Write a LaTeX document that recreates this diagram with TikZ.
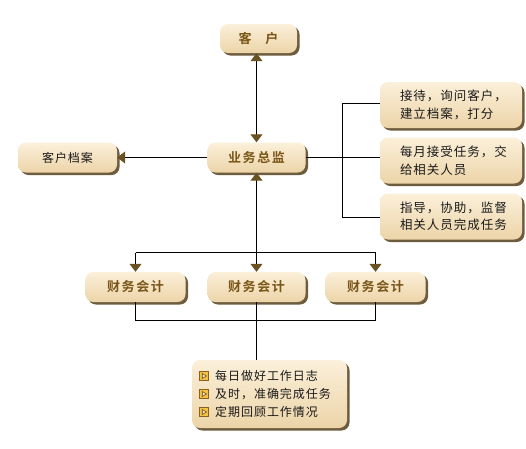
\documentclass[tikz,border=0pt]{standalone}
\usepackage{fontspec}
\newfontfamily\cjk[LetterSpace=8]{Noto Sans CJK SC}
\newfontfamily\cjkb[LetterSpace=12]{Noto Sans CJK SC Bold}
\usetikzlibrary{arrows.meta,shadows,calc}
\definecolor{boxtop}{HTML}{FBF0DA}
\definecolor{boxbot}{HTML}{ECD4A8}
\definecolor{shadowc}{HTML}{6E5C3E}
\definecolor{labc}{HTML}{7A5618}
\definecolor{tipc}{HTML}{6B5222}
\definecolor{icfill}{HTML}{F0C246}
\definecolor{icline}{HTML}{8A6020}
\tikzset{
  box/.style={rounded corners=8pt, top color=boxtop, bottom color=boxbot,
    drop shadow={shadow xshift=2.5pt, shadow yshift=-2.5pt, fill=shadowc, opacity=1},
    inner sep=0pt, align=center},
  bold/.style={box, font=\cjkb\fontsize{13}{15}\selectfont, text=labc},
  plain/.style={box, font=\cjk\fontsize{12}{18}\selectfont, text=black!90},
  rbox/.style={box, font=\cjk\fontsize{12.5}{17.5}\selectfont, text=black!90,
    minimum width=142pt, minimum height=46pt, text width=124pt, align=left},
  conn/.style={line width=1pt, black},
  tip/.style={-{Triangle[width=12pt,length=8pt,color=tipc]}},
  tipboth/.style={{Triangle[width=12pt,length=8pt,color=tipc]}-{Triangle[width=12pt,length=8pt,color=tipc]}},
  icon/.style={draw=icline, fill=icfill, line width=0.8pt, minimum size=9pt, inner sep=0pt},
  itemtext/.style={anchor=west, font=\cjk\fontsize{12}{14}\selectfont, text=black!90, inner sep=0pt}
}
\newcommand{\ind}{\hspace*{11pt}}
\begin{document}
\begin{tikzpicture}[x=1pt,y=-1pt]
\useasboundingbox (0,0) rectangle (526,448);
% nodes
\node[bold, minimum width=77pt, minimum height=29pt] (kh) at (258.5,38.5) {客\hspace{14pt}户};
\node[bold, minimum width=98pt, minimum height=30pt] (yw) at (256.5,157.5) {业务总监};
\node[plain, minimum width=99pt, minimum height=30pt] (da) at (67.5,157.5) {客户档案};
\node[rbox] (r1) at (451,105) {\ind 接待，询问客户，\\\ind 建立档案，打分};
\node[rbox] (r2) at (451,160.5) {\ind 每月接受任务，交\\\ind 给相关人员};
\node[rbox] (r3) at (451,216.5) {\ind 指导，协助，监督\\\ind 相关人员完成任务};
\node[bold, minimum width=100pt, minimum height=30pt] (c1) at (135.5,287) {财务会计};
\node[bold, minimum width=98pt, minimum height=30pt] (c2) at (256.5,287) {财务会计};
\node[bold, minimum width=100pt, minimum height=30pt] (c3) at (375.5,287) {财务会计};
\node[box, minimum width=155pt, minimum height=68pt] (nt) at (269.5,394) {};
% items in note
\foreach \i/\yy/\txt in {1/376/每日做好工作日志, 2/394/及时，准确完成任务, 3/412/定期回顾工作情况}{
  \node[icon] (ic\i) at (204,\yy) {};
  \fill[icline] ($(ic\i.center)+(-2.2,-3.2)$) -- ($(ic\i.center)+(3.2,0)$) -- ($(ic\i.center)+(-2.2,3.2)$) -- cycle;
  \fill[white!80!icfill] ($(ic\i.center)+(-1.2,-1.6)$) -- ($(ic\i.center)+(1.4,0)$) -- ($(ic\i.center)+(-1.2,1.6)$) -- cycle;
  \node[itemtext] (it\i) at (215,\yy) {\txt};
}
% connectors
\draw[conn, tipboth] (yw.north |- kh.south) -- (yw.north);
\draw[conn, tip] (yw.west) -- (da.east);
\coordinate (bx) at (342.5,157.5);
\draw[conn] (yw.east) -- (bx);
\draw[conn] (r1.west |- 0,103.5) -| (bx |- 0,217.5) -- (r3.west |- 0,217.5);
\draw[conn] (bx) -- (r2.west |- bx);
\coordinate (tb) at (256.5,252.5);
\draw[conn] (c1.north |- tb) -- (c3.north |- tb);
\draw[conn, tip] (c1.north |- tb) -- (c1.north);
\draw[conn, tip] (c3.north |- tb) -- (c3.north);
\draw[conn, tipboth] (yw.south) -- (c2.north);
\coordinate (bb) at (256.5,320.5);
\draw[conn] (c1.south) -- (c1.south |- bb) -- (c3.south |- bb) -- (c3.south);
\draw[conn] (c2.south) -- (nt.north -| c2.south);
\end{tikzpicture}
\end{document}
